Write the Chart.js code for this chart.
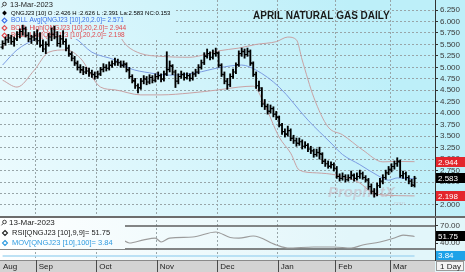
<!DOCTYPE html>
<html>
<head>
<meta charset="utf-8">
<script src="https://cdn.jsdelivr.net/npm/chart.js@4.4.1/dist/chart.umd.min.js"></script>
<style>
  html, body { margin: 0; padding: 0; background: #fff; overflow: hidden; }
  #wrapPrice { position: absolute; left: 0; top: 0; width: 465px; height: 216px; }
  #wrapRsi { position: absolute; left: 0; top: 216px; width: 465px; height: 56px; }
</style>
</head>
<body>
<div id="wrapPrice"><canvas id="priceChart"></canvas></div>
<div id="wrapRsi"><canvas id="rsiChart"></canvas></div>
<script>
// month labels and the bar index where each month begins (between two bars)
var monthNames = ['Aug', 'Sep', 'Oct', 'Nov', 'Dec', 'Jan', 'Feb', 'Mar'];
var monthBounds = [11.5, 32.5, 53.5, 74.5, 95.5, 115.5, 134.5];
var priceTicks = [2.0, 2.25, 2.5, 2.75, 3.0, 3.25, 3.5, 3.75, 4.0, 4.25, 4.5, 4.75, 5.0, 5.25, 5.5, 5.75, 6.0, 6.25];

// daily OHLC, one bar per trading day, Aug 16 2022 .. Mar 13 2023
var opens = [
  5.44,5.52,5.60,5.64,5.56,5.62,5.72,5.78,5.84,5.70,5.62,5.66,
  5.62,5.58,5.48,5.40,5.50,5.66,5.72,5.66,5.52,5.62,5.56,5.42,5.28,5.20,5.08,5.00,4.94,4.90,4.92,4.88,4.84,
  4.80,4.86,4.96,5.00,4.98,5.04,5.08,5.12,5.10,5.04,5.06,4.94,4.80,4.70,4.60,4.56,4.70,4.74,4.68,4.78,4.72,
  4.80,4.82,4.74,4.86,4.96,5.02,4.90,4.70,4.80,4.84,4.78,4.82,4.76,4.86,4.90,5.00,5.10,5.24,5.30,5.22,5.30,
  5.30,5.04,4.84,4.70,4.62,4.80,4.90,5.06,5.30,5.34,5.28,5.34,5.08,4.84,4.60,4.50,4.20,4.14,4.04,4.10,3.98,
  3.90,3.74,3.60,3.54,3.62,3.46,3.40,3.34,3.38,3.28,3.30,3.22,3.18,3.10,3.14,3.10,2.96,2.90,2.84,2.88,
  2.80,2.62,2.58,2.62,2.55,2.60,2.64,2.58,2.62,2.68,2.60,2.54,2.40,2.30,2.24,2.42,2.52,2.60,2.70,
  2.76,2.84,2.90,2.94,2.64,2.68,2.60,2.52,2.426
];
var highs = [
  5.58,5.66,5.72,5.70,5.66,5.78,5.84,5.92,5.88,5.76,5.70,5.78,
  5.82,5.76,5.60,5.56,5.74,5.86,5.90,5.78,5.70,5.80,5.62,5.48,5.34,5.24,5.14,5.06,5.02,5.00,4.98,4.94,4.90,
  4.92,5.00,5.08,5.06,5.12,5.14,5.20,5.18,5.14,5.14,5.10,5.00,4.84,4.76,4.64,4.76,4.82,4.80,4.84,4.82,4.86,
  4.90,4.86,4.92,5.34,5.14,5.06,4.94,4.86,4.92,4.88,4.88,4.86,4.90,4.96,5.06,5.16,5.32,5.40,5.34,5.38,5.42,
  5.34,5.08,4.90,4.76,4.86,4.96,5.10,5.36,5.42,5.40,5.42,5.38,5.12,4.90,4.70,4.56,4.30,4.20,4.18,4.14,4.04,
  3.94,3.78,3.66,3.72,3.66,3.52,3.46,3.46,3.42,3.38,3.34,3.28,3.22,3.22,3.26,3.14,3.00,2.96,2.94,2.92,
  2.84,2.68,2.70,2.66,2.66,2.74,2.68,2.70,2.76,2.72,2.64,2.58,2.46,2.36,2.48,2.58,2.66,2.76,2.84,
  2.90,2.96,3.03,2.98,2.74,2.72,2.64,2.56,2.626
];
var lows = [
  5.40,5.48,5.54,5.50,5.46,5.58,5.64,5.70,5.66,5.56,5.52,5.58,
  5.50,5.44,5.34,5.30,5.46,5.58,5.62,5.46,5.44,5.50,5.36,5.24,5.14,5.04,4.94,4.88,4.84,4.86,4.80,4.78,4.74,
  4.76,4.82,4.90,4.92,4.94,5.00,5.04,5.04,5.00,5.00,4.90,4.76,4.66,4.54,4.44,4.52,4.64,4.62,4.64,4.66,4.68,
  4.74,4.68,4.70,4.82,4.90,4.84,4.56,4.64,4.76,4.72,4.74,4.70,4.72,4.80,4.86,4.96,5.06,5.20,5.16,5.18,5.24,
  5.00,4.80,4.64,4.52,4.58,4.76,4.86,5.02,5.24,5.20,5.24,5.04,4.80,4.54,4.48,4.14,4.08,3.98,4.00,3.92,3.86,
  3.70,3.54,3.48,3.50,3.40,3.34,3.28,3.30,3.22,3.24,3.16,3.12,3.04,3.06,3.00,2.90,2.84,2.80,2.80,2.74,
  2.58,2.52,2.54,2.50,2.52,2.56,2.52,2.54,2.58,2.56,2.50,2.34,2.24,2.17,2.20,2.38,2.46,2.56,2.66,
  2.72,2.78,2.84,2.60,2.58,2.54,2.46,2.40,2.391
];
var closes = [
  5.52,5.60,5.64,5.56,5.62,5.72,5.78,5.84,5.70,5.62,5.66,5.70,
  5.58,5.48,5.40,5.50,5.66,5.72,5.66,5.52,5.62,5.56,5.42,5.30,5.20,5.10,5.00,4.95,4.90,4.92,4.88,4.85,4.80,
  4.85,4.95,5.00,4.98,5.05,5.08,5.12,5.10,5.05,5.08,4.95,4.80,4.72,4.60,4.55,4.70,4.75,4.68,4.78,4.72,4.80,
  4.82,4.75,4.85,4.95,5.04,4.90,4.70,4.80,4.85,4.78,4.82,4.76,4.85,4.90,5.00,5.10,5.25,5.30,5.22,5.30,5.32,
  5.05,4.85,4.70,4.62,4.80,4.90,5.05,5.30,5.35,5.28,5.35,5.10,4.85,4.60,4.55,4.20,4.15,4.05,4.10,3.98,3.92,
  3.75,3.60,3.55,3.62,3.45,3.40,3.35,3.38,3.28,3.30,3.22,3.18,3.10,3.15,3.12,2.95,2.90,2.85,2.88,2.80,
  2.62,2.58,2.62,2.55,2.60,2.65,2.58,2.62,2.68,2.60,2.55,2.40,2.30,2.25,2.42,2.52,2.60,2.70,2.78,
  2.84,2.90,2.96,2.64,2.68,2.60,2.52,2.44,2.583
];
var netChange = 0.153;

// bollinger bands at a few bars
var upperIdx = [0, 5, 11, 15, 22, 27, 33, 39, 43, 48, 55, 65, 69, 75, 82, 88, 95, 99, 102, 104, 108, 113, 118, 125, 132, 137, 143];
var upperVals = [5.40, 6.15, 6.26, 6.10, 6.02, 6.00, 5.98, 5.82, 5.48, 5.30, 5.24, 5.22, 5.26, 5.36, 5.42, 5.50, 5.56, 5.66, 5.60, 5.16, 4.35, 3.70, 3.53, 3.20, 2.94, 2.95, 2.944];
var avgIdx = [0, 5, 11, 14, 20, 25, 31, 39, 44, 51, 58, 67, 75, 83, 88, 96, 106, 114, 118, 124, 130, 134, 137, 143];
var avgVals = [5.05, 5.38, 5.60, 5.66, 5.70, 5.64, 5.33, 5.16, 4.98, 4.88, 4.83, 4.88, 4.99, 5.05, 4.94, 4.57, 3.85, 3.35, 3.10, 2.88, 2.65, 2.54, 2.59, 2.571];
var lowerIdx = [0, 5, 11, 16, 22, 27, 34, 39, 48, 55, 65, 75, 82, 87, 91, 96, 100, 103, 109, 116, 124, 128, 132, 143];
var lowerVals = [4.72, 4.57, 4.94, 5.33, 5.38, 5.20, 4.57, 4.51, 4.40, 4.40, 4.44, 4.51, 4.57, 4.59, 4.18, 3.48, 3.13, 2.76, 2.70, 2.65, 2.48, 2.28, 2.22, 2.198];

// lower panel
var rsiIdx = [0, 6, 12, 18, 25, 32, 37, 41, 44, 49, 53, 55, 58, 66, 74, 79, 82, 87, 95, 99, 108, 115, 121, 125, 131, 136, 139, 143];
var rsiVals = [62, 68, 55, 56, 42, 38, 48, 47, 40.4, 46, 49, 42.2, 49, 50.9, 59.6, 50, 49, 52.6, 37, 31.7, 33.5, 33.5, 31.7, 37, 42.2, 49.1, 54.3, 51.75];
var rsiLevels = [70, 30];
var rsiTicks = [70, 40];
var movIdx = [0, 143];
var movVals = [3.84, 3.84];

var xMin = -0.9, xMax = 150.1;
var FONT = "'Liberation Sans', Arial, sans-serif";
var last = closes.length - 1;

function pts(idx, vals) {
  return idx.map(function(v, k) { return { x: v, y: vals[k] }; });
}

function panelGradient(ctx, w, h, c0, c1) {
  var g = ctx.createLinearGradient(0, h, w * 0.75, 0);
  g.addColorStop(0, c0);
  g.addColorStop(1, c1);
  return g;
}

function drawDiamond(ctx, x, y, r, color, filled) {
  ctx.beginPath();
  ctx.moveTo(x, y - r); ctx.lineTo(x + r, y); ctx.lineTo(x, y + r); ctx.lineTo(x - r, y);
  ctx.closePath();
  if (filled) { ctx.fillStyle = color; ctx.fill(); }
  else { ctx.strokeStyle = color; ctx.lineWidth = 1.1; ctx.stroke(); }
}

function drawLens(ctx, x, y) {
  ctx.strokeStyle = '#444';
  ctx.lineWidth = 1;
  ctx.beginPath();
  ctx.arc(x + 1.5, y - 1, 1.8, 0, Math.PI * 2);
  ctx.moveTo(x + 0.2, y + 0.4);
  ctx.lineTo(x - 1.5, y + 2.3);
  ctx.stroke();
}

// ---------- price panel ----------
var pricePlugin = {
  id: 'pricePanel',
  beforeDraw: function(chart) {
    var ctx = chart.ctx;
    ctx.save();
    ctx.fillStyle = panelGradient(ctx, chart.width, chart.height, '#eefbfe', '#bdeff9');
    ctx.fillRect(0, 0, chart.width, chart.height);
    ctx.restore();
  },
  beforeDatasetsDraw: function(chart) {
    var ctx = chart.ctx;
    ctx.save();
    ctx.font = 'italic bold 15px ' + FONT;
    ctx.fillStyle = 'rgba(200,150,160,0.38)';
    ctx.textBaseline = 'middle';
    ctx.fillText('ProphetX', 328, 193);
    ctx.font = '6px ' + FONT;
    ctx.fillText('.com', 392, 203);
    ctx.restore();
  },
  beforeDatasetDraw: function(chart, args) {
    if (args.index !== 0) return;
    // legend box sits over the bands but under the bars
    var ctx = chart.ctx;
    ctx.save();
    ctx.fillStyle = panelGradient(ctx, chart.width, chart.height, '#eefbfe', '#bdeff9');
    ctx.fillRect(0, 0, 176, 39);
    ctx.textBaseline = 'middle';
    drawLens(ctx, 3, 5);
    ctx.font = '7.5px ' + FONT;
    ctx.fillStyle = '#222';
    ctx.fillText('13-Mar-2023', 10, 5);
    var rows = [
      ['QNGJ23 [10] O :' + opens[last].toFixed(3) + ' H :' + highs[last].toFixed(3) + ' L :' + lows[last].toFixed(3) +
        ' La:' + closes[last].toFixed(3) + ' NC:' + netChange.toFixed(3), '#000', true],
      ['BOLL Avg[QNGJ23 [10],20,2.0]= ' + avgVals[avgVals.length - 1].toFixed(3), '#3a6ee8', false],
      ['BOLL High[QNGJ23 [10],20,2.0]= ' + upperVals[upperVals.length - 1].toFixed(3), '#e0474c', false],
      ['BOLL Low[QNGJ23 [10],20,2.0]= ' + lowerVals[lowerVals.length - 1].toFixed(3), '#e0474c', false]
    ];
    for (var r = 0; r < rows.length; r++) {
      var y = 13 + r * 7.5;
      ctx.font = (r === 0 ? '6px ' : '6.5px ') + FONT;
      drawDiamond(ctx, 4.5, y, 2.4, rows[r][1], rows[r][2]);
      ctx.fillStyle = rows[r][1];
      ctx.fillText(rows[r][0], 11, y);
    }
    ctx.restore();
  },
  afterDatasetsDraw: function(chart) {
    // open / close ticks of each bar
    var ctx = chart.ctx, xs = chart.scales.x, ys = chart.scales.y;
    ctx.save();
    ctx.strokeStyle = '#000';
    ctx.lineWidth = 1.1;
    ctx.beginPath();
    for (var i = 0; i < closes.length; i++) {
      var x = xs.getPixelForValue(i);
      var yo = ys.getPixelForValue(opens[i]);
      var yc = ys.getPixelForValue(closes[i]);
      ctx.moveTo(x - 2.1, yo); ctx.lineTo(x, yo);
      ctx.moveTo(x, yc); ctx.lineTo(x + 2.1, yc);
    }
    ctx.stroke();
    ctx.restore();
  },
  afterDraw: function(chart) {
    var ctx = chart.ctx, ys = chart.scales.y, ca = chart.chartArea;
    ctx.save();
    ctx.font = 'bold 10px ' + FONT;
    ctx.fillStyle = '#1a1a1a';
    ctx.textBaseline = 'middle';
    ctx.fillText('APRIL NATURAL GAS DAILY', 253, 16);

    var marks = [upperVals[upperVals.length - 1], closes[last], lowerVals[lowerVals.length - 1]];
    var markColors = ['#e3262c', '#000000', '#e3262c'];
    ctx.font = '8px ' + FONT;
    for (var k = 0; k < marks.length; k++) {
      var y = Math.round(ys.getPixelForValue(marks[k]));
      ctx.fillStyle = markColors[k];
      ctx.fillRect(ca.right + 1, y - 5, 29, 10);
      ctx.fillStyle = '#fff';
      ctx.fillText(marks[k].toFixed(3), ca.right + 3, y + 0.5);
    }
    ctx.restore();
  }
};

new Chart(document.getElementById('priceChart').getContext('2d'), {
  type: 'bar',
  data: {
    datasets: [
      {
        type: 'bar',
        data: lows.map(function(l, i) { return { x: i, y: [l, highs[i]] }; }),
        backgroundColor: '#000',
        barThickness: 1.2,
        grouped: false,
        order: 0
      },
      {
        type: 'line', data: pts(upperIdx, upperVals), borderColor: '#c9a2a4', borderWidth: 1,
        pointRadius: 0, cubicInterpolationMode: 'monotone', order: 1
      },
      {
        type: 'line', data: pts(avgIdx, avgVals), borderColor: '#7c9ce2', borderWidth: 1,
        pointRadius: 0, cubicInterpolationMode: 'monotone', order: 2
      },
      {
        type: 'line', data: pts(lowerIdx, lowerVals), borderColor: '#c9a2a4', borderWidth: 1,
        pointRadius: 0, cubicInterpolationMode: 'monotone', order: 3
      }
    ]
  },
  options: {
    responsive: true,
    maintainAspectRatio: false,
    animation: false,
    events: [],
    layout: { padding: 0, autoPadding: false },
    plugins: { legend: { display: false }, tooltip: { enabled: false } },
    scales: {
      x: {
        type: 'linear', min: xMin, max: xMax, offset: false,
        afterBuildTicks: function(s) { s.ticks = monthBounds.map(function(v) { return { value: v }; }); },
        ticks: { display: false },
        grid: { color: '#98a5a8', drawTicks: false, offset: false },
        border: { display: false, dash: [2, 2] },
        afterFit: function(s) { s.height = 0; s.paddingLeft = 0; s.paddingRight = 0; }
      },
      y: {
        position: 'right', min: 1.76, max: 6.468, beginAtZero: false,
        afterBuildTicks: function(s) { s.ticks = priceTicks.map(function(v) { return { value: v }; }); },
        ticks: {
          autoSkip: false, padding: 2, color: '#3a3a3a',
          font: { family: FONT, size: 8 },
          callback: function(v) { return v.toFixed(3); }
        },
        grid: { color: '#98a5a8', tickColor: '#333', tickLength: 3, tickBorderDash: [] },
        border: { display: true, color: '#333', width: 1, dash: [2, 2] },
        afterFit: function(s) { s.width = 30; s.paddingTop = 0; s.paddingBottom = 0; }
      }
    }
  },
  plugins: [pricePlugin]
});

// ---------- RSI panel ----------
var rsiPlugin = {
  id: 'rsiPanel',
  beforeDraw: function(chart) {
    var ctx = chart.ctx, xs = chart.scales.x, ca = chart.chartArea;
    ctx.save();
    ctx.fillStyle = panelGradient(ctx, chart.width, chart.height, '#ffffff', '#e2f6fa');
    ctx.fillRect(0, 0, chart.width, chart.height);
    // date band
    ctx.fillStyle = '#d3d3d3';
    ctx.fillRect(0, xs.top, ca.right, chart.height - xs.top);
    ctx.fillStyle = '#8a8a8a';
    ctx.fillRect(0, xs.top, chart.width, 1);
    ctx.strokeStyle = '#4a4a4a';
    ctx.lineWidth = 1;
    ctx.beginPath();
    for (var k = 0; k < monthBounds.length; k++) {
      var x = Math.round(xs.getPixelForValue(monthBounds[k])) + 0.5;
      ctx.moveTo(x, xs.top); ctx.lineTo(x, chart.height);
    }
    ctx.stroke();
    // timeframe box
    ctx.fillStyle = '#f4f4f4';
    ctx.fillRect(ca.right + 1, xs.top + 1, chart.width - ca.right - 2, chart.height - xs.top - 2);
    ctx.strokeStyle = '#9a9a9a';
    ctx.strokeRect(ca.right + 1.5, xs.top + 1.5, chart.width - ca.right - 3, chart.height - xs.top - 3);
    ctx.fillStyle = '#222';
    ctx.font = '8px ' + FONT;
    ctx.textBaseline = 'middle';
    ctx.fillText('1 Day', ca.right + 5, xs.top + 6.5);
    ctx.restore();
  },
  beforeDatasetsDraw: function(chart) {
    var ctx = chart.ctx, ys = chart.scales.y, ca = chart.chartArea;
    ctx.save();
    ctx.strokeStyle = '#5e5e5e';
    ctx.lineWidth = 1.4;
    ctx.beginPath();
    for (var k = 0; k < rsiLevels.length; k++) {
      var y = ys.getPixelForValue(rsiLevels[k]);
      ctx.moveTo(ca.left, y); ctx.lineTo(ca.right, y);
    }
    ctx.stroke();
    ctx.restore();
  },
  afterDatasetsDraw: function(chart) {
    var ctx = chart.ctx;
    ctx.save();
    ctx.fillStyle = panelGradient(ctx, chart.width, chart.height, '#ffffff', '#e2f6fa');
    ctx.fillRect(0, 2, 125, 31);
    ctx.textBaseline = 'middle';
    drawLens(ctx, 3, 7);
    ctx.font = '8px ' + FONT;
    ctx.fillStyle = '#222';
    ctx.fillText('13-Mar-2023', 9, 7);
    ctx.font = '7.5px ' + FONT;
    drawDiamond(ctx, 5, 17, 2.5, '#222', false);
    ctx.fillStyle = '#222';
    ctx.fillText('RSI[QNGJ23 [10],9,9]= ' + rsiVals[rsiVals.length - 1].toFixed(2), 12, 17);
    drawDiamond(ctx, 5, 27, 2.5, '#2f9be0', false);
    ctx.fillStyle = '#2f9be0';
    ctx.fillText('MOV[QNGJ23 [10],100]= ' + movVals[movVals.length - 1].toFixed(2), 12, 27);
    ctx.restore();
  },
  afterDraw: function(chart) {
    var ctx = chart.ctx, ca = chart.chartArea;
    ctx.save();
    ctx.font = '8px ' + FONT;
    ctx.textBaseline = 'middle';
    var yR = Math.round(chart.scales.y.getPixelForValue(rsiVals[rsiVals.length - 1]));
    ctx.fillStyle = '#000';
    ctx.fillRect(ca.right + 1, yR - 5, 29, 10);
    ctx.fillStyle = '#fff';
    ctx.fillText(rsiVals[rsiVals.length - 1].toFixed(2), ca.right + 3, yR + 0.5);
    var yM = Math.round(chart.scales.yMov.getPixelForValue(movVals[movVals.length - 1]));
    ctx.fillStyle = '#1ea2e8';
    ctx.fillRect(ca.right + 1, yM - 5, 29, 9);
    ctx.fillStyle = '#fff';
    ctx.fillText(movVals[movVals.length - 1].toFixed(2), ca.right + 3, yM);
    // panel separator
    ctx.fillStyle = '#6c6c6c';
    ctx.fillRect(0, 0, chart.width, 2);
    ctx.restore();
  }
};

new Chart(document.getElementById('rsiChart').getContext('2d'), {
  type: 'line',
  data: {
    datasets: [
      {
        data: pts(rsiIdx, rsiVals), yAxisID: 'y', borderColor: '#9c9c9c', borderWidth: 1.2,
        pointRadius: 0, cubicInterpolationMode: 'monotone'
      },
      {
        data: pts(movIdx, movVals), yAxisID: 'yMov', borderColor: '#a9d9f2', borderWidth: 1.5,
        pointRadius: 0
      }
    ]
  },
  options: {
    responsive: true,
    maintainAspectRatio: false,
    animation: false,
    events: [],
    layout: { padding: 0, autoPadding: false },
    plugins: { legend: { display: false }, tooltip: { enabled: false } },
    scales: {
      x: {
        type: 'linear', min: xMin, max: xMax, offset: false,
        afterBuildTicks: function(s) {
          s.ticks = [xMin].concat(monthBounds).map(function(v) { return { value: v }; });
        },
        ticks: {
          autoSkip: false, maxRotation: 0, align: 'start', labelOffset: 3, padding: 2,
          color: '#222', font: { family: FONT, size: 8 },
          callback: function(v, i) { return monthNames[i]; }
        },
        grid: {
          color: function(c) { return c.index === 0 ? 'rgba(0,0,0,0)' : '#98a5a8'; },
          drawTicks: false, offset: false
        },
        border: { display: false, dash: [2, 2] },
        afterFit: function(s) { s.height = 12; s.paddingLeft = 0; s.paddingRight = 0; }
      },
      y: {
        position: 'right', min: 10.87, max: 87.39,
        afterBuildTicks: function(s) { s.ticks = rsiTicks.map(function(v) { return { value: v }; }); },
        ticks: {
          padding: 2, color: '#3a3a3a', font: { family: FONT, size: 8 },
          callback: function(v) { return v.toFixed(2); }
        },
        grid: { drawOnChartArea: false, tickColor: '#333', tickLength: 3 },
        border: { display: true, color: '#333', width: 1 },
        afterFit: function(s) { s.width = 30; s.paddingTop = 0; s.paddingBottom = 0; }
      },
      yMov: { display: false, min: 3.80, max: 4.25 }
    }
  },
  plugins: [rsiPlugin]
});
</script>
</body>
</html>
